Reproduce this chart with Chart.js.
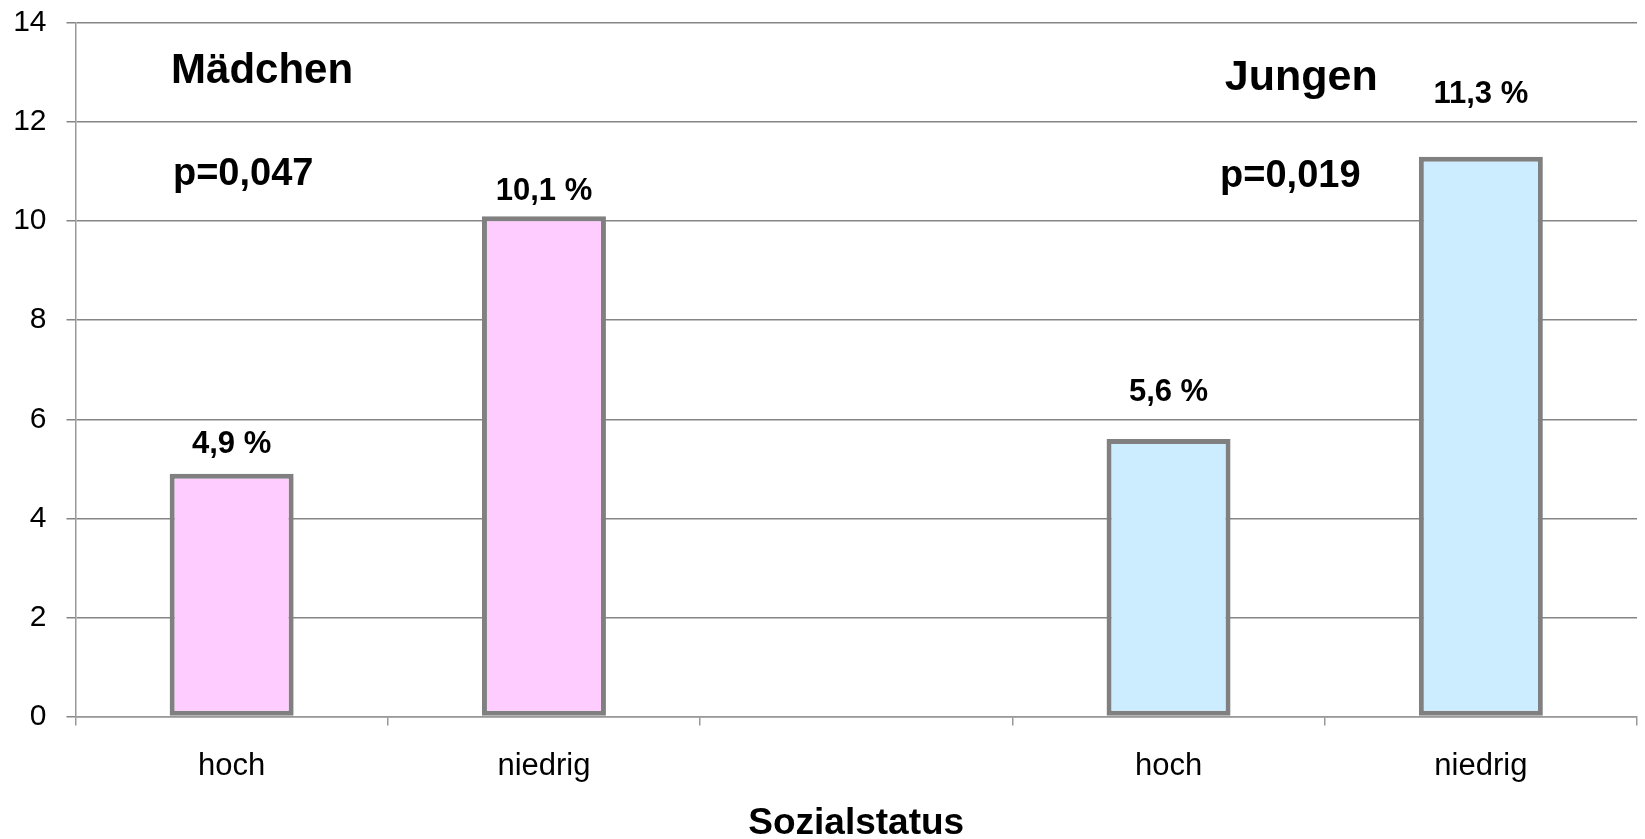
<!DOCTYPE html>
<html>
<head>
<meta charset="utf-8">
<script src="https://cdn.jsdelivr.net/npm/chart.js@4/dist/chart.umd.min.js"></script>
<style>
  html, body { margin: 0; padding: 0; background: #ffffff; }
  #wrap { position: relative; width: 1645px; height: 839px; }
</style>
</head>
<body>
<div id="wrap"><canvas id="c" width="1645" height="839"></canvas></div>
<script>
// ---- data ----
const categories = ['hoch', 'niedrig', '', 'hoch', 'niedrig'];
const maedchen = [4.9, 10.1, null, null, null];
const jungen = [null, null, null, 5.6, 11.3];
const yTicks = [0, 2, 4, 6, 8, 10, 12, 14];
const groupTitles = ['Mädchen', 'Jungen'];
const pValues = ['p=0,047', 'p=0,019'];
const xAxisTitle = 'Sozialstatus';

const FONT = '"Liberation Sans", Arial, Helvetica, sans-serif';

function fmt(v) { return v.toFixed(1).replace('.', ',') + ' %'; }

// label / annotation placement (in data units)
const valueLabelY = [5.5, 10.6, null, 6.55, 12.56];
const annotations = [
  { text: groupTitles[0], x: -0.194, y: 13.03, size: 42 },
  { text: pValues[0],     x: -0.188, y: 10.95, size: 38 },
  { text: groupTitles[1], x: 3.18,   y: 12.88, size: 43 },
  { text: pValues[1],     x: 3.165,  y: 10.91, size: 38 }
];

const labelPlugin = {
  id: 'labels',
  afterDatasetsDraw(chart) {
    const ctx = chart.ctx;
    const xs = chart.scales.x, ys = chart.scales.y;
    ctx.save();
    ctx.fillStyle = '#000';
    ctx.textAlign = 'center';
    ctx.textBaseline = 'middle';
    ctx.font = 'bold 31px ' + FONT;
    chart.data.datasets.forEach((ds, di) => {
      const meta = chart.getDatasetMeta(di);
      ds.data.forEach((v, i) => {
        if (v === null || v === undefined) return;
        const el = meta.data[i];
        ctx.fillText(fmt(v), el.x, ys.getPixelForValue(valueLabelY[i]));
      });
    });
    ctx.textAlign = 'left';
    annotations.forEach(a => {
      ctx.font = 'bold ' + a.size + 'px ' + FONT;
      const step = xs.getPixelForValue(1) - xs.getPixelForValue(0);
      const px = xs.getPixelForValue(0) + a.x * step;
      ctx.fillText(a.text, px, ys.getPixelForValue(a.y));
    });
    ctx.restore();
  }
};

const barCommon = {
  borderColor: '#808080',
  borderWidth: 5,
  borderSkipped: false,
  grouped: false,
  categoryPercentage: 1.0,
  barPercentage: 0.397
};

new Chart(document.getElementById('c'), {
  type: 'bar',
  data: {
    labels: categories,
    datasets: [
      Object.assign({ label: groupTitles[0], data: maedchen, backgroundColor: '#FFCCFF' }, barCommon),
      Object.assign({ label: groupTitles[1], data: jungen, backgroundColor: '#CCECFF' }, barCommon)
    ]
  },
  options: {
    responsive: false,
    animation: false,
    devicePixelRatio: 1,
    layout: { autoPadding: false, padding: { top: 23, right: 8, bottom: 0, left: 0 } },
    plugins: {
      legend: { display: false },
      tooltip: { enabled: false }
    },
    scales: {
      x: {
        grid: {
          offset: true,
          drawOnChartArea: false,
          drawTicks: true,
          tickLength: 9,
          color: '#999999',
          lineWidth: 1.5
        },
        border: { display: true, color: '#999999', width: 1.5 },
        ticks: {
          color: '#000',
          font: { family: FONT, size: 31 },
          padding: 22,
          maxRotation: 0,
          autoSkip: false
        },
        title: {
          display: true,
          text: xAxisTitle,
          color: '#000',
          font: { family: FONT, size: 37, weight: 'bold', lineHeight: 1.0 },
          padding: { top: 0, bottom: -3 }
        },
        afterFit(scale) {
          scale.height = 122.5;
          scale.paddingLeft = 0; scale.paddingRight = 0;
        }
      },
      y: {
        min: 0,
        max: 14,
        afterBuildTicks(scale) { scale.ticks = yTicks.map(v => ({ value: v })); },
        grid: {
          color: '#858585',
          lineWidth: 1.5,
          drawTicks: true,
          tickLength: 9
        },
        border: { display: true, color: '#999999', width: 1.5 },
        ticks: {
          color: '#000',
          font: { family: FONT, size: 30 },
          padding: 20
        },
        afterFit(scale) {
          scale.width = 75.5;
          scale.paddingTop = 0; scale.paddingBottom = 0;
        }
      }
    }
  },
  plugins: [labelPlugin]
});
</script>
</body>
</html>
